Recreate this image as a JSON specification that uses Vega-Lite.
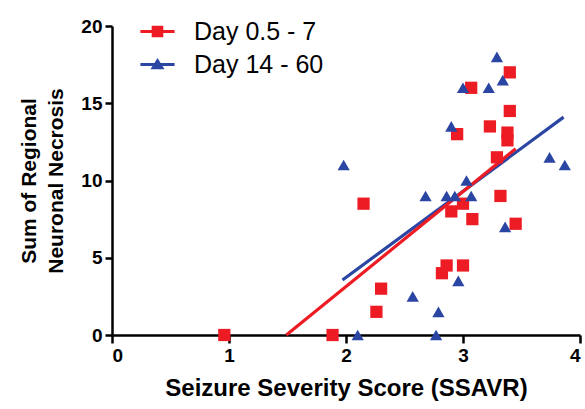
{
  "$schema": "https://vega.github.io/schema/vega-lite/v6.json",
  "width": 468,
  "height": 309,
  "autosize": {"type": "none"},
  "padding": {"left": 112, "top": 26, "right": 5, "bottom": 74},
  "background": "white",
  "config": {
    "view": {"stroke": null},
    "font": "Liberation Sans",
    "axis": {
      "grid": false,
      "domainColor": "black",
      "domainWidth": 2.5,
      "tickColor": "black",
      "tickWidth": 2.5,
      "labelColor": "black",
      "labelFont": "Liberation Sans",
      "labelFontSize": 19,
      "labelFontWeight": "bold",
      "titleColor": "black",
      "titleFont": "Liberation Sans",
      "titleFontWeight": "bold"
    }
  },
  "datasets": {
    "points": [
      {"group": "Day 0.5 - 7", "x": 0.96, "y": 0},
      {"group": "Day 0.5 - 7", "x": 1.885, "y": 0},
      {"group": "Day 0.5 - 7", "x": 2.26, "y": 1.5},
      {"group": "Day 0.5 - 7", "x": 2.30, "y": 3},
      {"group": "Day 0.5 - 7", "x": 2.15, "y": 8.5},
      {"group": "Day 0.5 - 7", "x": 2.82, "y": 4},
      {"group": "Day 0.5 - 7", "x": 2.86, "y": 4.5},
      {"group": "Day 0.5 - 7", "x": 3.00, "y": 4.5},
      {"group": "Day 0.5 - 7", "x": 2.90, "y": 8},
      {"group": "Day 0.5 - 7", "x": 3.00, "y": 8.5},
      {"group": "Day 0.5 - 7", "x": 3.08, "y": 7.5},
      {"group": "Day 0.5 - 7", "x": 2.95, "y": 13},
      {"group": "Day 0.5 - 7", "x": 3.07, "y": 16},
      {"group": "Day 0.5 - 7", "x": 3.23, "y": 13.5},
      {"group": "Day 0.5 - 7", "x": 3.29, "y": 11.5},
      {"group": "Day 0.5 - 7", "x": 3.32, "y": 9},
      {"group": "Day 0.5 - 7", "x": 3.38, "y": 13.1},
      {"group": "Day 0.5 - 7", "x": 3.38, "y": 12.6},
      {"group": "Day 0.5 - 7", "x": 3.40, "y": 14.5},
      {"group": "Day 0.5 - 7", "x": 3.40, "y": 17},
      {"group": "Day 0.5 - 7", "x": 3.45, "y": 7.2},
      {"group": "Day 14 - 60", "x": 1.98, "y": 11},
      {"group": "Day 14 - 60", "x": 2.10, "y": 0},
      {"group": "Day 14 - 60", "x": 2.77, "y": 0},
      {"group": "Day 14 - 60", "x": 2.57, "y": 2.5},
      {"group": "Day 14 - 60", "x": 2.79, "y": 1.5},
      {"group": "Day 14 - 60", "x": 2.96, "y": 3.5},
      {"group": "Day 14 - 60", "x": 2.68, "y": 9},
      {"group": "Day 14 - 60", "x": 2.86, "y": 9},
      {"group": "Day 14 - 60", "x": 2.93, "y": 9},
      {"group": "Day 14 - 60", "x": 3.07, "y": 9},
      {"group": "Day 14 - 60", "x": 3.03, "y": 10},
      {"group": "Day 14 - 60", "x": 2.90, "y": 13.5},
      {"group": "Day 14 - 60", "x": 3.00, "y": 16},
      {"group": "Day 14 - 60", "x": 3.22, "y": 16},
      {"group": "Day 14 - 60", "x": 3.34, "y": 16.5},
      {"group": "Day 14 - 60", "x": 3.29, "y": 18},
      {"group": "Day 14 - 60", "x": 3.36, "y": 7},
      {"group": "Day 14 - 60", "x": 3.74, "y": 11.5},
      {"group": "Day 14 - 60", "x": 3.87, "y": 11}
    ],
    "blueFit": [
      {"group": "Day 14 - 60", "x": 1.97, "y": 3.56},
      {"group": "Day 14 - 60", "x": 3.86, "y": 14.1}
    ],
    "redFit": [
      {"group": "Day 0.5 - 7", "x": 1.49, "y": 0},
      {"group": "Day 0.5 - 7", "x": 3.45, "y": 12.05}
    ]
  },
  "encoding": {
    "x": {
      "field": "x",
      "type": "quantitative",
      "scale": {"domain": [0, 4], "nice": false, "zero": false},
      "axis": {
        "values": [0, 1, 2, 3, 4],
        "tickSize": 8,
        "labelPadding": 3,
        "title": "Seizure Severity Score (SSAVR)",
        "titleFontSize": 24,
        "titlePadding": 11
      }
    },
    "y": {
      "field": "y",
      "type": "quantitative",
      "scale": {"domain": [0, 20], "nice": false},
      "axis": {
        "values": [0, 5, 10, 15, 20],
        "tickSize": 7,
        "labelPadding": 3,
        "title": ["Sum of Regional", "Neuronal Necrosis"],
        "titleFontSize": 21,
        "titlePadding": 14,
        "titleLineHeight": 27
      }
    }
  },
  "layer": [
    {
      "data": {"name": "points"},
      "transform": [{"filter": "false"}],
      "mark": {"type": "point", "filled": false, "opacity": 1, "size": 144, "strokeWidth": 3},
      "encoding": {
        "color": {
          "field": "group",
          "type": "nominal",
          "scale": {"domain": ["Day 0.5 - 7", "Day 14 - 60"], "range": ["#ED1C24", "#2B45A3"]},
          "legend": {
            "title": null,
            "orient": "none",
            "legendX": 33,
            "legendY": -7,
            "padding": 0,
            "symbolSize": 144,
            "symbolStrokeWidth": 3,
            "labelFontSize": 25,
            "labelFont": "Liberation Sans",
            "labelColor": "black",
            "labelOffset": 24,
            "rowPadding": 7
          }
        },
        "shape": {
          "field": "group",
          "type": "nominal",
          "scale": {
            "domain": ["Day 0.5 - 7", "Day 14 - 60"],
            "range": [
              "M-2.85,0H2.85M-0.72,-0.72H0.72V0.72H-0.72ZM-0.72,-0.33H0.72M-0.72,0.33H0.72",
              "M-2.85,0H2.85M0,-0.62L0.72,0.55L-0.72,0.55ZM-0.35,0.3H0.35M-0.2,-0.2H0.2"
            ]
          }
        }
      }
    },
    {
      "data": {"name": "blueFit"},
      "mark": {"type": "line", "color": "#2B45A3", "strokeWidth": 3.2},
      "encoding": {}
    },
    {
      "data": {"name": "redFit"},
      "mark": {"type": "line", "color": "#ED1C24", "strokeWidth": 3.2},
      "encoding": {}
    },
    {
      "data": {"name": "points"},
      "transform": [{"filter": "datum.group === 'Day 0.5 - 7'"}],
      "mark": {"type": "point", "filled": true, "opacity": 1, "size": 150, "shape": "square", "color": "#ED1C24"},
      "encoding": {}
    },
    {
      "data": {"name": "points"},
      "transform": [{"filter": "datum.group === 'Day 14 - 60'"}],
      "mark": {"type": "point", "filled": true, "opacity": 1, "size": 150, "shape": "triangle-up", "color": "#2B45A3"},
      "encoding": {}
    }
  ]
}
